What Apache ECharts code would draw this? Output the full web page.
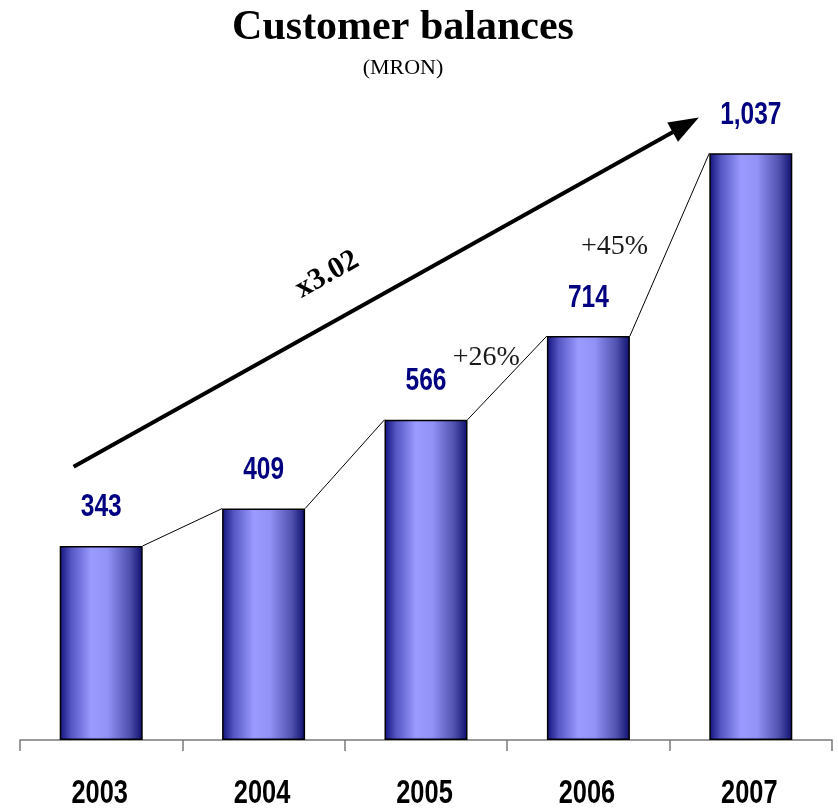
<!DOCTYPE html>
<html>
<head>
<meta charset="utf-8">
<script src="https://cdn.jsdelivr.net/npm/echarts@6/dist/echarts.min.js"></script>
<style>
  html, body { margin: 0; padding: 0; background: #fff; }
  #chart { width: 838px; height: 810px; }
</style>
</head>
<body>
<div id="chart"></div>
<script>
// Customer balances per year, in millions of RON
const years = ['2003', '2004', '2005', '2006', '2007'];
const balances = [343, 409, 566, 714, 1037];
// Year-on-year transitions (index of the starting year) that get a growth label
const growthLabelFrom = [2, 3];

const BAR_W = 83;
const SANS = '"Liberation Sans", Arial, sans-serif';
const SERIF = '"Liberation Serif", "Times New Roman", serif';
// condensed look for the bold numbers: horizontal squeeze of a regular bold face
const NARROW_SCALE = 0.79;

const fmtThousands = v => v.toLocaleString('en-US');
const growthText = (a, b) => '+' + Math.round((b / a - 1) * 100) + '%';
const multipleText = 'x' + (balances[balances.length - 1] / balances[0]).toFixed(2);

// offsets of the growth labels from the middle of their connector segment
const growthLabelOffset = { 2: [-21, -20], 3: [-55, 2] };

const barGradient = new echarts.graphic.LinearGradient(0, 0, 1, 0, [
  { offset: 0, color: '#12127a' },
  { offset: 0.14, color: '#5656c4' },
  { offset: 0.38, color: '#9a9aff' },
  { offset: 0.58, color: '#9191f6' },
  { offset: 0.84, color: '#5050ae' },
  { offset: 1, color: '#0e0e6c' }
]);

const labelData = balances.map((v, i) => [i, v]);
const connectorData = balances.slice(0, -1).map((v, i) => [i, v, balances[i + 1]]);

const chart = echarts.init(document.getElementById('chart'), null, { renderer: 'canvas' });

chart.setOption({
  backgroundColor: '#ffffff',
  animation: false,
  title: {
    text: 'Customer balances',
    subtext: '(MRON)',
    left: 398,
    top: 2,
    textAlign: 'center',
    itemGap: 8,
    textStyle: { fontFamily: SERIF, fontWeight: 'bold', fontSize: 42, color: '#000' },
    subtextStyle: { fontFamily: SERIF, fontSize: 22, color: '#000' }
  },
  grid: { left: 20, right: 6, top: 61, bottom: 70, containLabel: false },
  xAxis: {
    type: 'category',
    data: years,
    axisLine: { lineStyle: { color: '#7a7a7a', width: 1.5 } },
    axisTick: { show: true, length: 11, alignWithLabel: false, lineStyle: { color: '#7a7a7a', width: 1.5 } },
    axisLabel: { show: false },
    splitLine: { show: false }
  },
  yAxis: { type: 'value', min: 0, max: 1200, show: false },
  series: [
    {
      type: 'bar',
      data: balances,
      barWidth: BAR_W,
      itemStyle: { color: barGradient, borderColor: '#000', borderWidth: 1.5 },
      z: 2
    },
    {
      // value above each bar and year below the axis, in a condensed bold face
      type: 'custom',
      data: labelData,
      encode: { x: 0, y: 1 },
      z: 5,
      silent: true,
      renderItem: (params, api) => {
        const i = api.value(0);
        const top = api.coord([i, api.value(1)]);
        const base = api.coord([i, 0]);
        return {
          type: 'group',
          children: [
            {
              type: 'text',
              x: top[0],
              y: top[1] - 38,
              scaleX: NARROW_SCALE,
              style: {
                text: fmtThousands(api.value(1)),
                x: 0, y: 0,
                align: 'center',
                verticalAlign: 'middle',
                font: 'bold 31px ' + SANS,
                fill: '#000080'
              }
            },
            {
              type: 'text',
              x: base[0] - 1.5,
              y: base[1] + 54,
              scaleX: 0.77,
              style: {
                text: years[i],
                x: 0, y: 0,
                align: 'center',
                verticalAlign: 'middle',
                font: 'bold 33px ' + SANS,
                fill: '#000'
              }
            }
          ]
        };
      }
    },
    {
      // thin connectors between neighbouring bar tops, with growth labels
      type: 'custom',
      data: connectorData,
      encode: { x: 0, y: 1 },
      z: 3,
      silent: true,
      renderItem: (params, api) => {
        const i = api.value(0);
        const p0 = api.coord([i, api.value(1)]);
        const p1 = api.coord([i + 1, api.value(2)]);
        const x0 = p0[0] + BAR_W / 2, x1 = p1[0] - BAR_W / 2;
        const children = [{
          type: 'line',
          shape: { x1: x0, y1: p0[1], x2: x1, y2: p1[1] },
          style: { stroke: '#000', lineWidth: 1 }
        }];
        if (growthLabelFrom.includes(i)) {
          const off = growthLabelOffset[i];
          children.push({
            type: 'text',
            style: {
              text: growthText(balances[i], balances[i + 1]),
              x: (x0 + x1) / 2 + off[0],
              y: (p0[1] + p1[1]) / 2 + off[1],
              align: 'center',
              verticalAlign: 'middle',
              font: '28px ' + SERIF,
              fill: '#1a1a1a'
            }
          });
        }
        return { type: 'group', children };
      }
    },
    {
      // overall growth arrow from 2003 to 2007
      type: 'custom',
      data: [[0, balances[0]]],
      encode: { x: 0, y: 1 },
      z: 4,
      silent: true,
      renderItem: (params, api) => {
        const catW = api.size([1, 0])[0];
        const a = api.coord([0, 483]);
        const b = api.coord([4, 1100]);
        const sx = a[0] - 0.17 * catW, sy = a[1];
        const ex = b[0] - 0.32 * catW, ey = b[1];
        const ang = Math.atan2(ey - sy, ex - sx);
        const headLen = 30, headHalf = 11;
        const ux = Math.cos(ang), uy = Math.sin(ang);
        const bx = ex - ux * headLen, by = ey - uy * headLen;
        // unit normal pointing above the arrow
        const nx = uy, ny = -ux;
        const mx = sx + (ex - sx) * 0.44, my = sy + (ey - sy) * 0.44;
        return {
          type: 'group',
          children: [
            {
              type: 'line',
              shape: { x1: sx, y1: sy, x2: bx + ux * 2, y2: by + uy * 2 },
              style: { stroke: '#000', lineWidth: 4 }
            },
            {
              type: 'polygon',
              shape: { points: [[ex, ey], [bx - nx * headHalf, by - ny * headHalf], [bx + nx * headHalf, by + ny * headHalf]] },
              style: { fill: '#000' }
            },
            {
              type: 'text',
              x: mx + nx * 44,
              y: my + ny * 44,
              rotation: -ang,
              style: {
                text: multipleText,
                x: 0, y: 0,
                align: 'center',
                verticalAlign: 'middle',
                font: 'bold 30px ' + SERIF,
                fill: '#000'
              }
            }
          ]
        };
      }
    }
  ]
});
</script>
</body>
</html>
